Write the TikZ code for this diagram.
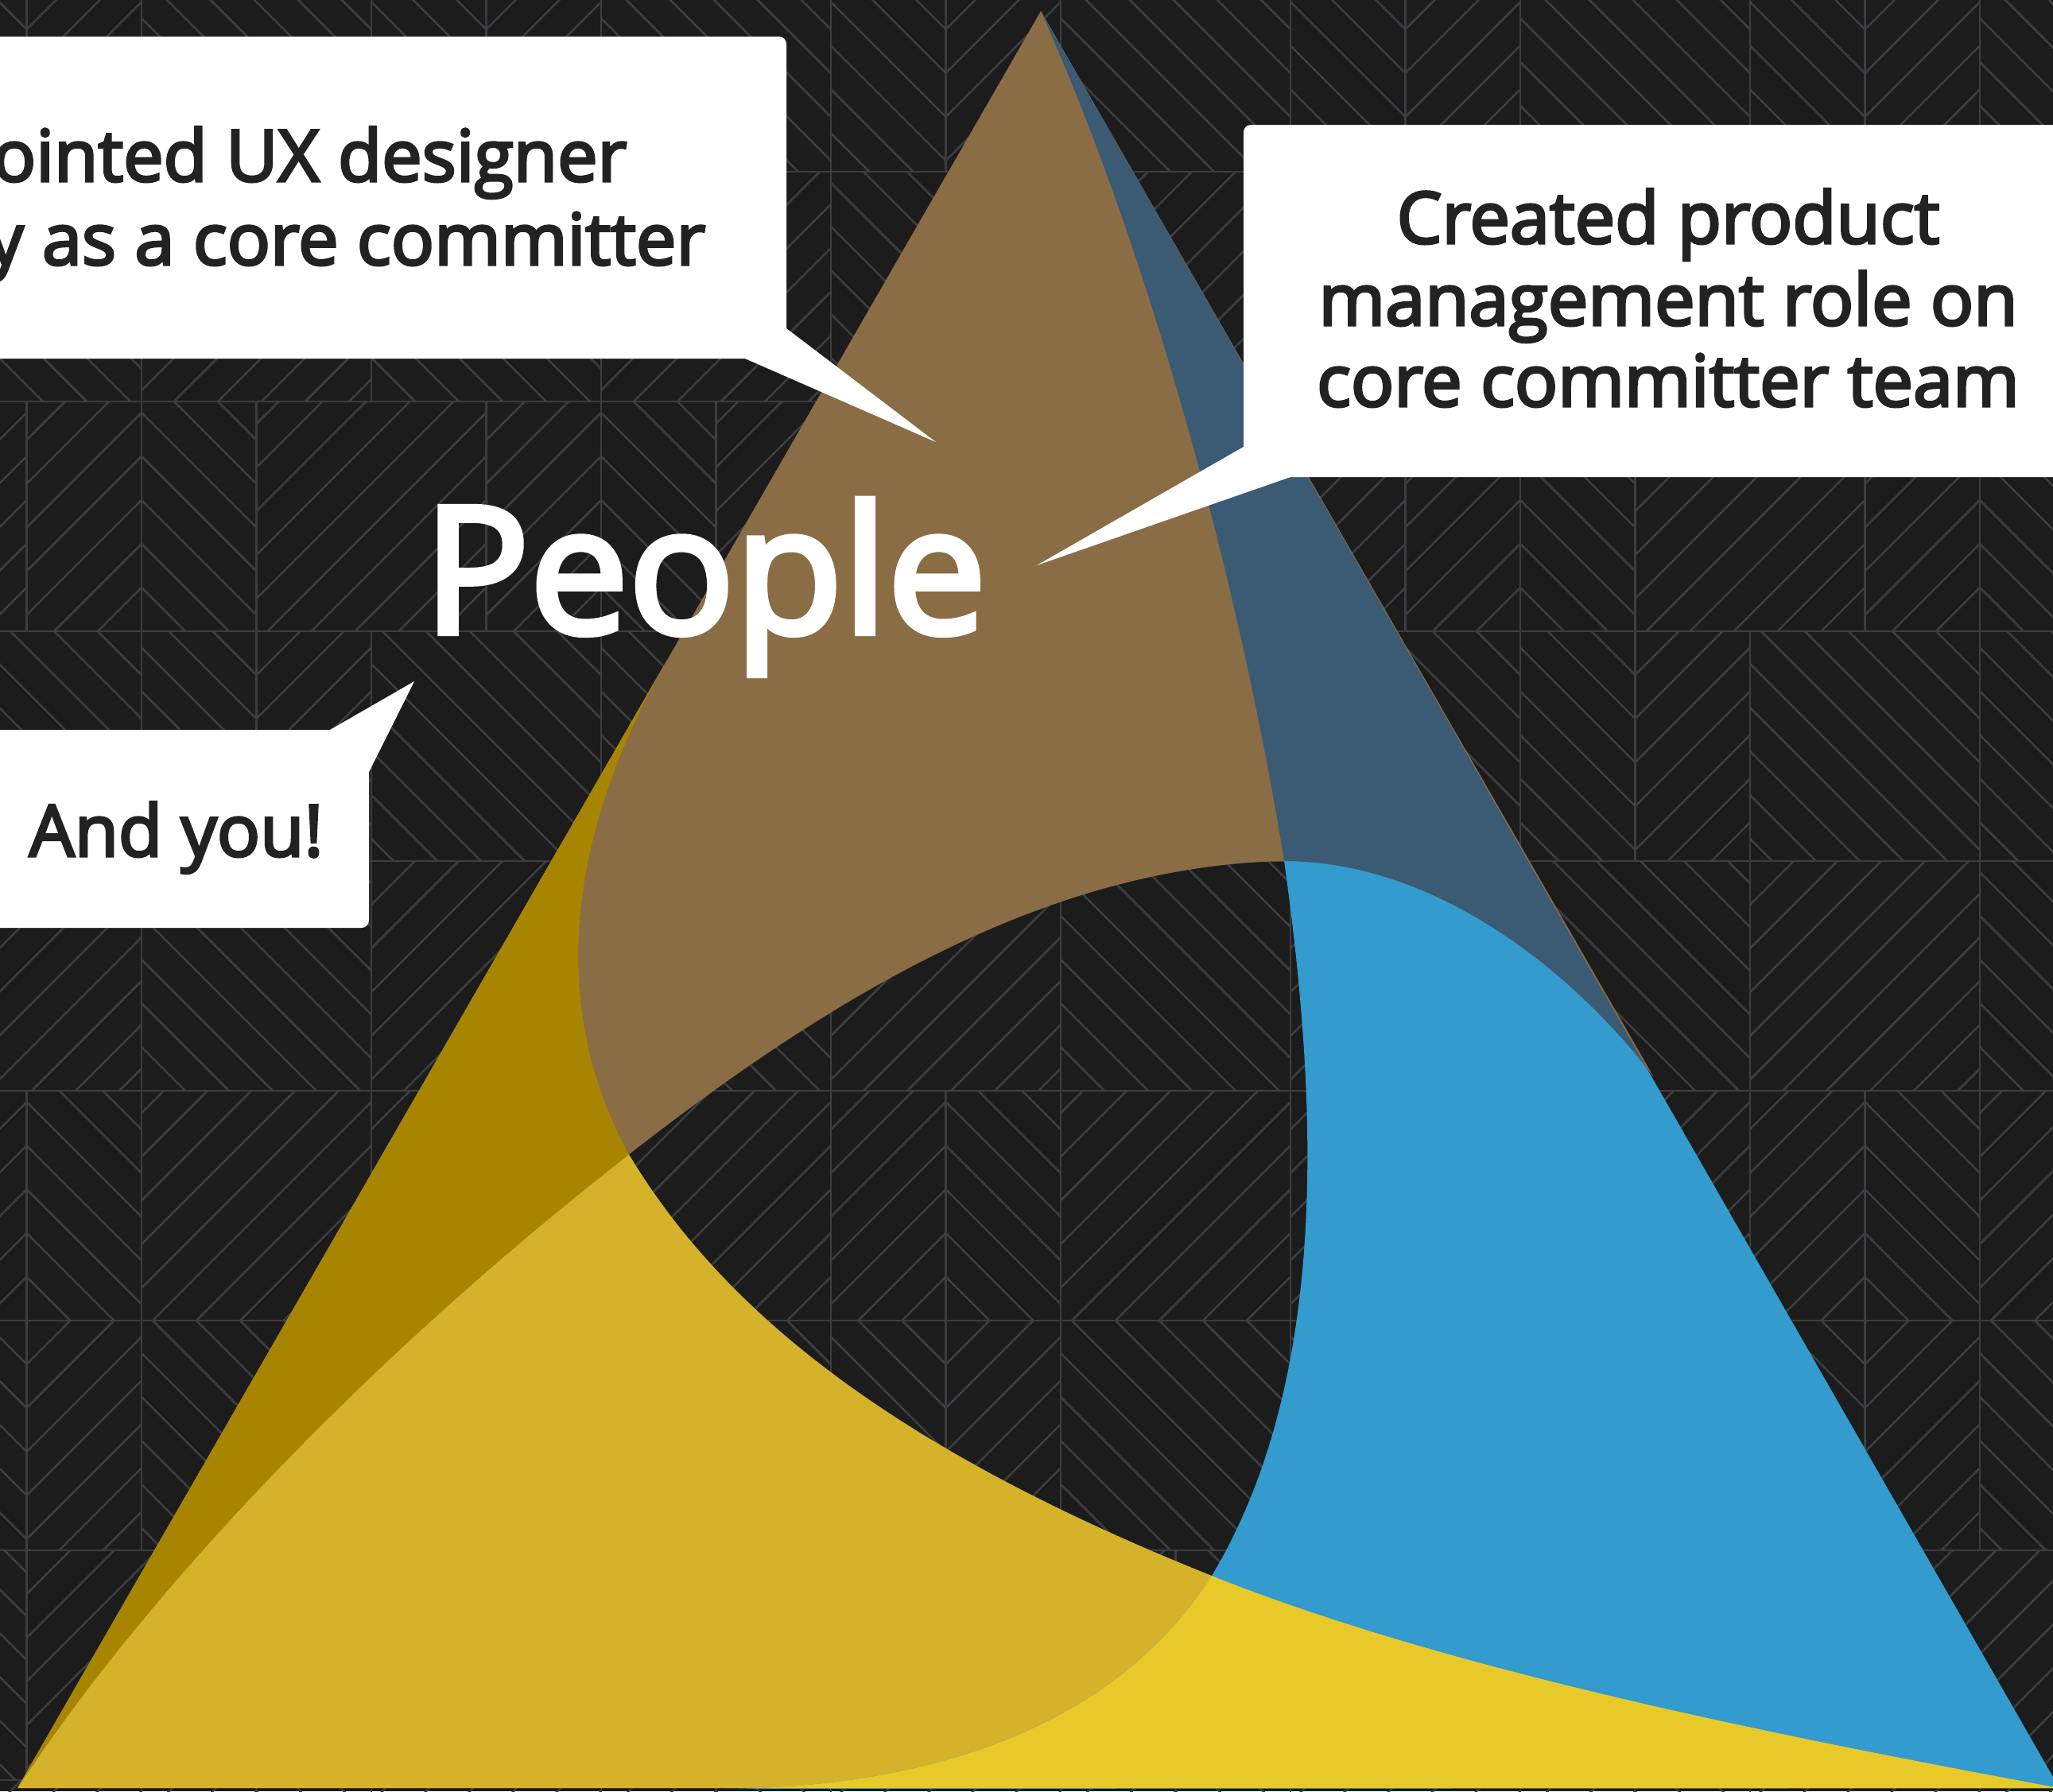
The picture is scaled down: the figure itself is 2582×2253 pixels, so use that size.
\documentclass[tikz,border=0pt]{standalone}
\usepackage{fontspec}
\setmainfont{Open Sans}
\newfontfamily\calfont{Open Sans}[FakeBold=3.6]
\definecolor{bgc}{HTML}{1C1C1C}
\definecolor{patc}{HTML}{3C3D40}
\definecolor{brownc}{HTML}{8A6C45}
\definecolor{bluec}{HTML}{339BCD}
\definecolor{yelc}{HTML}{D4B22A}
\definecolor{dkyel}{HTML}{A88500}
\definecolor{ltyel}{HTML}{E8C92A}
\definecolor{dkblue}{HTML}{3B5A73}
\definecolor{textc}{HTML}{222222}
\begin{document}
\begin{tikzpicture}[x=0.01cm,y=-0.01cm,
  patl/.style={draw=patc,line width=0.75pt},
  txt/.style={font=\calfont\fontsize{25.6pt}{30pt}\selectfont,text=textc,inner sep=0pt},
  ppl/.style={font=\calfont\fontsize{63pt}{70pt}\selectfont,text=white,inner sep=0pt},
  callout/.style={fill=white},
  roundbox/.style={fill=white,rounded corners=2.6pt}]
\useasboundingbox (0,0) rectangle (2582,2253);
\clip (0,0) rectangle (2582,2253);
\fill[bgc] (0,0) rectangle (2582,2253);
% background pattern
\foreach \j in {-1,...,7}{
  \pgfmathsetmacro\yy{216+289*\j}
  \pgfmathsetmacro\off{((\j==1)||(\j==6))*(-144.5)}
  \draw[patl] (0,\yy) -- (2582,\yy);
  \foreach \i in {-1,...,9}{
    \pgfmathsetmacro\xx{178+289*\i+\off}
    \pgfmathtruncatemacro\kk{mod(3*\i+5*\j+30,6)}
    \pgfmathsetmacro\cx{\xx+{0,289,289,0,144.5,144.5}[\kk]}
    \pgfmathsetmacro\cy{\yy+{0,0,289,289,0,289}[\kk]}
    \begin{scope}
      \clip (\xx,\yy) rectangle ++(289,289);
      \foreach \r in {55,110,...,605}{
        \draw[patl] (\cx-\r,\cy) -- (\cx,\cy-\r) -- (\cx+\r,\cy) -- (\cx,\cy+\r) -- cycle;
      }
      \draw[patl] (\cx,\yy) -- (\cx,\yy+289);
    \end{scope}
    \draw[patl] (\xx,\yy) -- (\xx,\yy+289);
  }
}
% lobes
\def\lobeY{(22,2249) -- (839,830) .. controls (724,1030) and (681,1252) .. (791,1452) .. controls (917,1662) and (1144,1830) .. (1524,1982) .. controls (1824,2102) and (2240,2184) .. (2590,2249) -- cycle}
\def\lobeBl{(2590,2249) -- (1309,14) .. controls (1444,314) and (1559,733) .. (1615,1083) .. controls (1657,1383) and (1674,1732) .. (1524,1982) .. controls (1394,2184) and (1150,2250) .. (900,2250) -- cycle}
\def\lobeBr{(1309,14) -- (22,2249) .. controls (182,2004) and (461,1709) .. (791,1452) .. controls (1041,1257) and (1315,1089) .. (1615,1083) .. controls (1815,1083) and (1990,1235) .. (2080,1355) -- cycle}
\fill[yelc] \lobeY;
\fill[bluec] \lobeBl;
\fill[brownc] \lobeBr;
\begin{scope}\clip \lobeY; \fill[dkyel] \lobeBr; \end{scope}
\begin{scope}\clip \lobeY; \fill[ltyel] \lobeBl; \end{scope}
\begin{scope}\clip \lobeBr; \fill[dkblue] \lobeBl; \end{scope}
% callouts
\fill[roundbox] (-40,46) rectangle (989,451);
\fill[callout] (989,413) -- (1177,556) -- (937,451) -- cycle;
\fill[roundbox] (1564,157) rectangle (2640,600);
\fill[callout] (1564,562) -- (1304,711) -- (1623,600) -- cycle;
\fill[roundbox] (-40,918) rectangle (464,1167);
\fill[callout] (415,918) -- (521,857) -- (464,971) -- cycle;
% texts
\node[txt,anchor=base east] (c1a) at (789,228) {pointed UX designer};
\node[txt,anchor=base east] (c1b) at (888,333) {y as a core committer};
\node[txt,anchor=base] (c2a) at (2098,306) {Created product};
\node[txt,anchor=base] (c2b) at (2098,409) {management role on};
\node[txt,anchor=base] (c2c) at (2098,511) {core committer team};
\node[txt,anchor=base west] (c3) at (36,1077) {And you!};
\node[ppl,anchor=base west] (ppl) at (532,796) {People};
\end{tikzpicture}
\end{document}
